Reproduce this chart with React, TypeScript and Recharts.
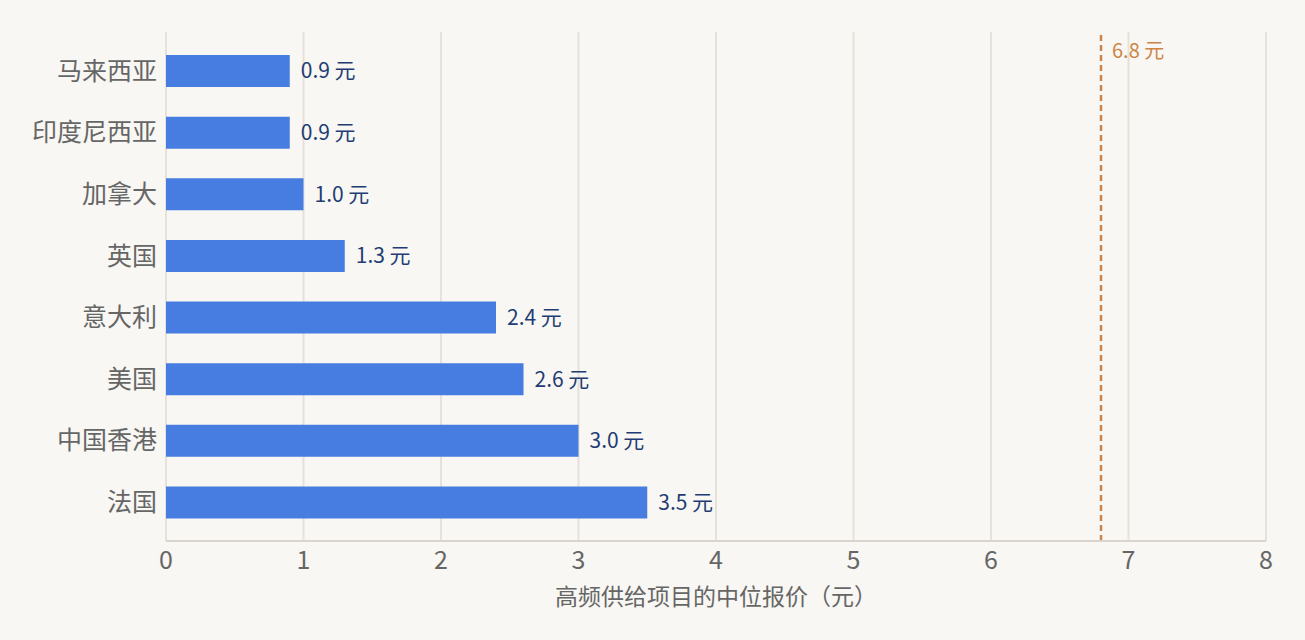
import { BarChart, Bar, XAxis, YAxis, CartesianGrid, ReferenceLine, LabelList } from 'recharts'

const countries = ['马来西亚', '印度尼西亚', '加拿大', '英国', '意大利', '美国', '中国香港', '法国']
const prices = [0.9, 0.9, 1.0, 1.3, 2.4, 2.6, 3.0, 3.5]
const xTicks = [0, 1, 2, 3, 4, 5, 6, 7, 8]
const chinaPrice = 6.8

const data = countries.map((name, i) => ({ name, price: prices[i] }))

const FONT = '"Noto Sans CJK SC", "Noto Sans", sans-serif'

function RefLabel(props: any) {
  const vb = props.viewBox || {}
  return (
    <text x={vb.x + 11} y={vb.y + 26} fill="#cd8545" fontSize={20} fontFamily={FONT}>
      {chinaPrice.toFixed(1)} 元
    </text>
  )
}

export default function App() {
  return (
    <div style={{ position: 'absolute', left: 0, top: 0, width: 1305, height: 640, background: '#f8f7f3' }}>
      <BarChart
        width={1305}
        height={640}
        data={data}
        layout="vertical"
        margin={{ top: 32, right: 39, left: 0, bottom: 0 }}
      >
        <CartesianGrid horizontal={false} stroke="#e6e2da" strokeWidth={2} />
        <XAxis
          type="number"
          domain={[0, 8]}
          ticks={xTicks}
          height={99}
          tickLine={false}
          axisLine={{ stroke: '#d9d5cc', strokeWidth: 2 }}
          tick={{ fill: '#666666', fontSize: 25, fontFamily: FONT }}
          tickMargin={4}
          label={{
            value: '高频供给项目的中位报价（元）',
            position: 'insideBottom',
            offset: 35,
            fill: '#666666',
            fontSize: 23,
            fontFamily: FONT,
          }}
        />
        <YAxis
          type="category"
          dataKey="name"
          width={166}
          axisLine={false}
          tickLine={false}
          padding={{ top: 8, bottom: 8 }}
          tick={{ fill: '#666666', fontSize: 25, fontFamily: FONT }}
          tickMargin={3}
        />
        <Bar dataKey="price" fill="#477ce0" barSize={32} isAnimationActive={false}>
          <LabelList
            dataKey="price"
            position="right"
            offset={11}
            formatter={(v: any) => `${Number(v).toFixed(1)} 元`}
            fill="#1f3d73"
            fontSize={21}
            fontFamily={FONT}
          />
        </Bar>
        <ReferenceLine
          x={chinaPrice}
          stroke="#cd8545"
          strokeWidth={2.5}
          strokeDasharray="6 4"
          label={<RefLabel />}
        />
      </BarChart>
    </div>
  )
}
